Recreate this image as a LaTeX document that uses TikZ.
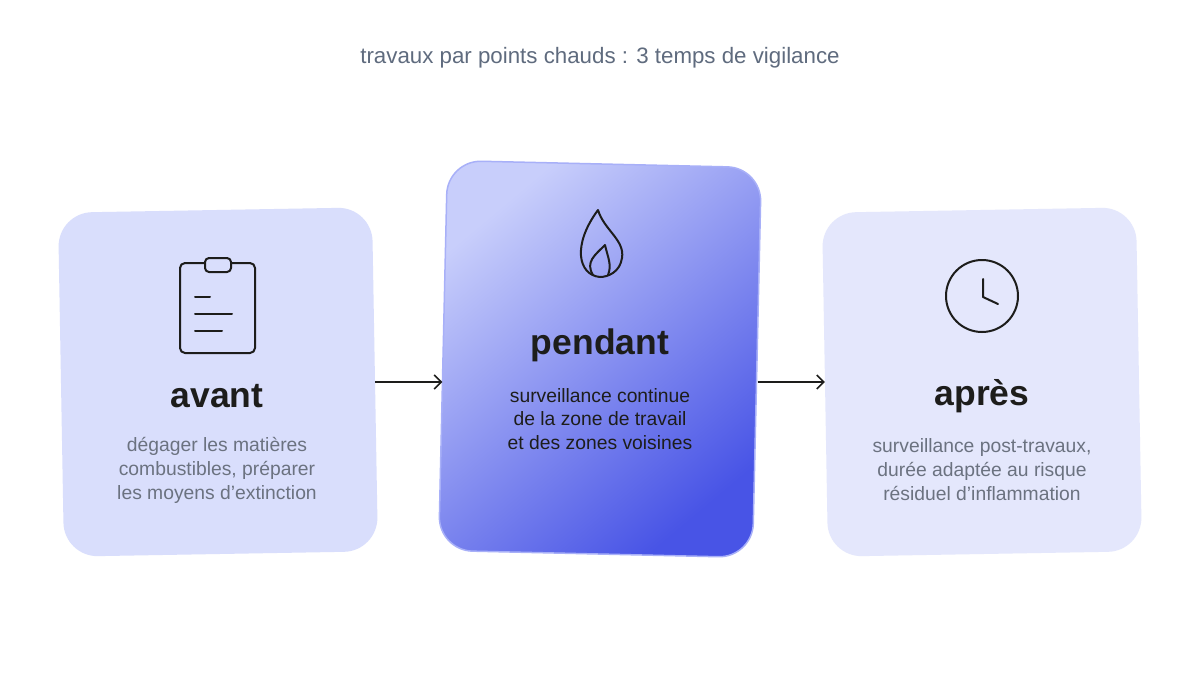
\documentclass[tikz,border=0pt]{standalone}
\usepackage{fontspec}
\setmainfont{Liberation Sans}
\usetikzlibrary{positioning,arrows.meta}
\definecolor{colorsoft}  {RGB}{217,222,252}
\definecolor{colorpale}  {RGB}{228,231,252}
\definecolor{colorlight} {RGB}{200,206,251}
\definecolor{colordeep}  {RGB}{72 ,84 ,230}
\definecolor{colorrim}   {RGB}{168,176,248}
\definecolor{colortext}  {RGB}{29 ,29 ,27 }
\definecolor{colorgrey}  {RGB}{107,114,128}
\definecolor{colortitle} {RGB}{95 ,107,126}

\begin{document}
\begin{tikzpicture}[
    x=1pt, y=-1pt,
    box/.style={rectangle,rounded corners=34pt,minimum width=314pt,minimum height=344pt,inner sep=0pt},
    head/.style={text=colortext,font={\fontsize{35.5}{40}\selectfont\bfseries}},
    desc/.style={text=colorgrey,font={\fontsize{19.3}{24}\selectfont},align=center},
    icon/.style={draw=colortext,line width=2pt,line cap=round,line join=round},
    link/.style={-{Straight Barb[length=7pt,width=14pt]},line width=1.5pt,draw=colortext},
]

    % Frame
    \useasboundingbox (0,0) rectangle (1200,675);
    \fill[white] (0,0) rectangle (1200,675);
    \node[text=colortitle,font={\fontsize{22.3}{26}\selectfont}] at (600,58) (title) {travaux par points chauds : 3 temps de vigilance};

    % Cards
    \node[box,fill=colorsoft,rotate=1] at (218,382) (avant) {};
    \node[box,draw=colorrim,line width=1.5pt,minimum width=314pt,minimum height=390pt,
          top color=colorlight,bottom color=colordeep,shading angle=40,rotate=-1.3] at (600,359) (pendant) {};
    \node[box,fill=colorpale,rotate=1] at (982,382) (apres) {};

    % Texts
    \node[head] at (217,396) (avanthead) {avant};
    \node[desc] at (217,470) (avantdesc) {dégager les matières\\combustibles, préparer\\les moyens d'extinction};
    \node[head] at (600,345) (pendanthead) {pendant};
    \node[desc,text=colortext,font={\fontsize{19.3}{23.5}\selectfont}] at (600,419) (pendantdesc) {surveillance continue\\de la zone de travail\\et des zones voisines};
    \node[head] at (982,396) (apreshead) {après};
    \node[desc] at (982,470) (apresdesc) {surveillance post-travaux,\\durée adaptée au risque\\résiduel d'inflammation};

    % Icons
    \draw[icon,rounded corners=5pt] (180,263) rectangle (255,353);
    \draw[icon,fill=colorsoft,rounded corners=4pt] (205,258) rectangle (231,272);
    \draw[icon] (195,297) -- (210,297) (195,314) -- (232,314) (195,331) -- (222,331);
    \draw[icon] (600,277) .. controls (578,275) and (572,245) .. (598,210)
                .. controls (604,230) and (625,240) .. (622,258)
                .. controls (620,272) and (608,277) .. (600,277);
    \draw[icon] (593,275) .. controls (585,262) and (595,255) .. (605,245)
                .. controls (608,258) and (612,265) .. (608,275);
    \draw[icon] (982,296) circle[radius=36];
    \draw[icon] (983,279) -- (983,297) -- (998,304);

    % Links
    \coordinate (avantout) at (avant.east |- 0,382);
    \draw[link] (avantout) -- (avantout -| pendant.west);
    \coordinate (pendantout) at (pendant.east |- 0,382);
    \draw[link] (pendantout) -- (pendantout -| apres.west);

\end{tikzpicture}
\end{document}
